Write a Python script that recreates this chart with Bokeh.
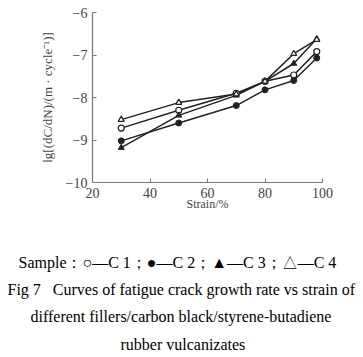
from bokeh.plotting import figure
from bokeh.models import Range1d, Title, CustomJSTickFormatter, FixedTicker
from bokeh.embed import file_html
from bokeh.resources import INLINE

strain = [30, 50, 70, 80, 90, 98]
c1 = [-8.72, -8.30, -7.90, -7.62, -7.47, -6.92]
c2 = [-9.02, -8.60, -8.19, -7.82, -7.60, -7.07]
c3 = [-9.18, -8.42, -7.95, -7.62, -7.20, -6.62]
c4 = [-8.52, -8.12, -7.92, -7.62, -6.97, -6.64]
x_ticks = [20, 40, 60, 80, 100]
y_ticks = [-10, -9, -8, -7, -6]
caption_lines = [
    "Sample\uff1a\u25cb\u2014C 1\uff1b\u25cf\u2014C 2\uff1b\u25b2\u2014C 3\uff1b\u25b3\u2014C 4",
    "Fig 7\u00a0\u00a0\u00a0Curves of fatigue crack growth rate vs strain of",
    "different fillers/carbon black/styrene-butadiene",
    "rubber vulcanizates",
]

SERIF = "Liberation Serif"

p = figure(width=363, height=357, output_backend="svg", toolbar_location=None,
           x_range=Range1d(20, 100), y_range=Range1d(-10, -6),
           min_border_left=92, min_border_right=41, min_border_top=12,
           min_border_bottom=0)
p.outline_line_color = None
p.xgrid.visible = False
p.ygrid.visible = False

for ax in (p.xaxis[0], p.yaxis[0]):
    ax.axis_line_color = "#777777"
    ax.axis_line_width = 1.2
    ax.major_tick_in = 4
    ax.major_tick_out = 0
    ax.major_tick_line_color = "#777777"
    ax.minor_tick_line_color = None
    ax.major_label_text_font = SERIF
    ax.major_label_text_font_size = "14px"
    ax.major_label_text_color = "#444444"
    ax.axis_label_text_font = SERIF
    ax.axis_label_text_font_style = "normal"
    ax.axis_label_text_color = "#444444"

p.xaxis.ticker = FixedTicker(ticks=x_ticks)
p.yaxis.ticker = FixedTicker(ticks=y_ticks)
p.yaxis.formatter = CustomJSTickFormatter(code="return tick.toString().replace('-', '\u2212');")
p.xaxis.axis_label = "Strain/%"
p.xaxis.axis_label_text_font_size = "12px"
p.xaxis.axis_label_standoff = -4
p.yaxis.axis_label = "lg[(dC/dN)/(m \u00b7 cycle\u207b\u00b9)]"
p.yaxis.axis_label_text_font_size = "13px"
p.yaxis.axis_label_standoff = 8

lw = 1.5
p.line(strain, c1, line_color="#222222", line_width=lw)
p.line(strain, c2, line_color="#222222", line_width=lw)
p.line(strain, c3, line_color="#222222", line_width=lw)
p.line(strain, c4, line_color="#222222", line_width=lw)
p.scatter(strain, c1, marker="circle", size=6, fill_color="white", line_color="#222222", line_width=1.2)
p.scatter(strain, c2, marker="circle", size=6, fill_color="#222222", line_color="#222222")
p.scatter(strain, c3, marker="triangle", size=6, fill_color="#222222", line_color="#222222")
p.scatter(strain, c4, marker="triangle", size=6, fill_color="white", line_color="#222222", line_width=1.2)

# left edges of caption lines, relative to the plot frame's left edge
offsets = [-74, -85, -62, 28]
standoffs = [8, 8, 9, 9]
p.add_layout(Title(text="\u00a0", text_font_size="1px", standoff=31), "below")
for txt, so, off in zip(caption_lines, standoffs, offsets):
    p.add_layout(Title(text=txt, align="left", offset=off, standoff=so,
                       text_font=SERIF, text_font_size="16px", text_font_style="normal",
                       text_color="#000000"), "below")
p.add_layout(Title(text="\u00a0", text_font_size="1px", standoff=-3), "below")

open("out.html", "w").write(file_html(p, INLINE))
